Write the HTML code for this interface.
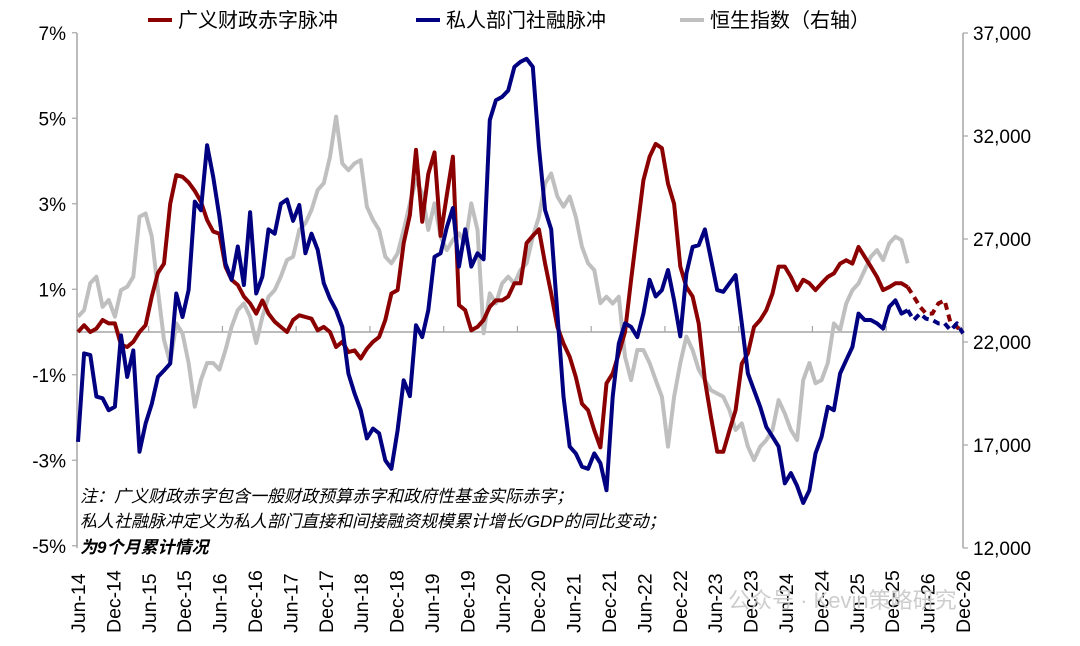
<!DOCTYPE html>
<html><head><meta charset="utf-8">
<style>
html,body{margin:0;padding:0;background:#fff;}
svg text{font-family:"Liberation Sans","Noto Sans CJK SC",sans-serif;}
</style></head>
<body>
<svg id="chart" width="1080" height="641" viewBox="0 0 1080 641" xmlns="http://www.w3.org/2000/svg">
<g id="legend">
 <g><line x1="148" y1="20" x2="172" y2="20" stroke="#8B0000" stroke-width="4"/><text x="178" y="27" font-size="20" fill="#000">广义财政赤字脉冲</text></g>
 <g><line x1="416" y1="20" x2="440" y2="20" stroke="#000080" stroke-width="4"/><text x="446" y="27" font-size="20" fill="#000">私人部门社融脉冲</text></g>
 <g><line x1="680" y1="20" x2="704" y2="20" stroke="#BFBFBF" stroke-width="4"/><text x="710" y="27" font-size="20" fill="#000">恒生指数（右轴）</text></g>
</g>
<g id="axes"></g>
<g id="series"></g>
<g font-style="italic" font-size="17" fill="#000">
 <text x="80" y="502">注：广义财政赤字包含一般财政预算赤字和政府性基金实际赤字；</text>
 <text x="80" y="527">私人社融脉冲定义为私人部门直接和间接融资规模累计增长/GDP的同比变动；</text>
 <text x="80" y="553" font-weight="bold">为9个月累计情况</text>
</g>
<text x="728" y="608" font-size="22" fill="#c8c8c8" opacity="0.9">公众号 · Kevin策略研究</text>
</svg>
<script>
const fiscal=[0,0.16,0,0.08,0.28,0.2,0.2,-0.3,-0.35,-0.23,0,0.16,0.83,1.38,1.6,3.0,3.67,3.63,3.5,3.3,3.05,2.62,2.35,2.3,1.53,1.22,1.1,0.83,0.67,0.43,0.74,0.43,0.24,0.12,0,0.28,0.39,0.35,0.31,0.04,0.12,0,-0.35,-0.23,-0.47,-0.43,-0.62,-0.39,-0.23,-0.12,0.28,0.9,0.98,2.08,2.74,4.26,2.58,3.7,4.2,2.25,3.2,4.1,0.63,0.51,0.04,0.12,0.28,0.59,0.74,0.74,0.83,1.14,1.14,2.08,2.25,2.4,1.6,0.9,0.12,-0.27,-0.58,-1.05,-1.68,-1.83,-2.3,-2.7,-1.2,-0.97,-0.5,0,1.22,2.4,3.55,4.1,4.4,4.3,3.47,3.0,1.53,1.05,0.83,0.2,-1.13,-1.99,-2.8,-2.8,-2.3,-1.83,-0.74,-0.5,0.12,0.28,0.51,0.9,1.53,1.53,1.29,0.98,1.22,1.14,0.98,1.14,1.29,1.37,1.6,1.68,1.6,1.99,1.76,1.53,1.29,0.98,1.05,1.14,1.14,1.05];
const fiscalForecast=[1.05,0.83,0.59,0.43,0.43,0.67,0.74,0.2,0.12,-0.03];
const privatePulse=[-2.57,-0.5,-0.54,-1.51,-1.55,-1.83,-1.75,-0.08,-1.05,-0.43,-2.8,-2.14,-1.68,-1.05,-0.9,-0.74,0.9,0.35,0.98,3.05,2.85,4.37,3.63,2.7,1.6,1.22,2.0,1.1,2.8,0.9,1.3,2.4,2.3,3.0,3.1,2.6,2.97,1.84,2.3,1.92,1.14,0.78,0.51,0.12,-0.97,-1.44,-1.83,-2.49,-2.26,-2.37,-3.0,-3.2,-2.3,-1.13,-1.5,0.16,-0.12,0.51,1.76,1.84,2.45,2.9,1.53,2.4,1.53,1.84,1.7,4.96,5.42,5.5,5.65,6.2,6.32,6.39,6.2,4.33,2.85,2.4,0.43,-1.51,-2.68,-2.84,-3.15,-3.2,-2.84,-3.07,-3.7,-1.51,-0.27,0.2,0.12,-0.12,0.43,1.22,0.83,0.98,1.45,0.74,-0.1,1.37,1.99,2.03,2.4,1.7,0.98,0.94,1.14,1.33,0.2,-0.97,-1.36,-1.75,-2.22,-2.45,-2.68,-3.54,-3.3,-3.6,-4.0,-3.7,-2.84,-2.45,-1.75,-1.83,-0.97,-0.66,-0.35,0.43,0.28,0.28,0.2,0.08,0.59,0.74,0.43,0.51];
const privateForecast=[0.51,0.28,0.43,0.31,0.28,0.2,0.2,0.04,0.2,-0.03];
const hsi=[23230,23550,24860,25170,23710,24040,23230,24520,24680,25170,28080,28240,27110,24520,22100,20980,22900,22420,20980,18860,20150,20980,20980,20660,21610,22740,23550,23870,23230,21950,23230,24200,24520,25170,25980,26140,27440,27760,28410,29380,29710,30990,32940,30670,30340,30670,30830,28570,27920,27440,26140,25820,26300,27440,28730,29870,29220,27440,28730,27110,26460,26950,27270,26790,28730,27440,22420,24360,23870,24840,25170,24840,25490,25820,27110,28080,29700,30180,29060,28570,29060,28080,26620,25820,25490,23890,24200,23870,24200,21290,20150,21610,21610,20980,20150,19340,16920,19340,20980,22260,21610,20660,20150,19660,19500,19340,18690,17730,18050,16920,16270,16920,17240,17730,19180,18530,17730,17240,20150,20980,20000,20150,20980,22900,22580,23870,24520,24840,25490,26140,26460,25980,26790,27110,26950,25820];
const leftTicks=["7%","5%","3%","1%","-1%","-3%","-5%"];
const leftTickValues=[7,5,3,1,-1,-3,-5];
const rightTicks=["37,000","32,000","27,000","22,000","17,000","12,000"];
const rightTickValues=[37000,32000,27000,22000,17000,12000];
const xLabels=["Jun-14","Dec-14","Jun-15","Dec-15","Jun-16","Dec-16","Jun-17","Dec-17","Jun-18","Dec-18","Jun-19","Dec-19","Jun-20","Dec-20","Jun-21","Dec-21","Jun-22","Dec-22","Jun-23","Dec-23","Jun-24","Dec-24","Jun-25","Dec-25","Jun-26","Dec-26"];

const NS="http://www.w3.org/2000/svg";
const X0=78,X1=963,NM=144;
const xm=m=>X0+(X1-X0)*m/NM;
const yl=v=>332-v*42.75;
const yr=v=>548-(v-12000)/25000*515;
function mk(tag,attrs,parent){const e=document.createElementNS(NS,tag);for(const k in attrs)e.setAttribute(k,attrs[k]);parent.appendChild(e);return e;}
const axes=document.getElementById('axes');
const series=document.getElementById('series');

const la=mk('line',{x1:77,y1:33,x2:77,y2:548,stroke:'#a6a6a6','stroke-width':1.5},axes);


const ra=mk('line',{x1:963,y1:33,x2:963,y2:548,stroke:'#a6a6a6','stroke-width':1.5},axes);


const za=mk('line',{x1:77,y1:yl(0),x2:963,y2:yl(0),stroke:'#a6a6a6','stroke-width':1.5},axes);


for(let m=11.5;m<NM;m+=12){
 const t=mk('line',{x1:xm(m),y1:yl(0),x2:xm(m),y2:yl(0)-6,stroke:'#a6a6a6','stroke-width':1.2},axes);
 
 
}
leftTicks.forEach((s,i)=>{
 const y=yl(leftTickValues[i]);
 const tk=mk('line',{x1:72,y1:y,x2:77,y2:y,stroke:'#a6a6a6','stroke-width':1.2},axes);
 
 
 const t=mk('text',{x:66,y:y+7,'font-size':19,'text-anchor':'end',fill:'#000'},axes);
 t.textContent=s;
 
 
});
rightTicks.forEach((s,i)=>{
 const y=yr(rightTickValues[i]);
 const tk=mk('line',{x1:963,y1:y,x2:968,y2:y,stroke:'#a6a6a6','stroke-width':1.2},axes);
 
 
 const t=mk('text',{x:973,y:y+7,'font-size':19,fill:'#000'},axes);
 t.textContent=s;
 
 
});
xLabels.forEach((s,i)=>{
 const x=X0+(X1-X0)*i/(xLabels.length-1);
 const t=mk('text',{x:0,y:0,'font-size':19.5,fill:'#000',transform:`translate(${x+7},633) rotate(-90)`},axes);
 t.textContent=s;
 
 
});

function line(vals,off,fy,color,dash,name){
 const d=vals.map((v,i)=>(i?'L':'M')+xm(i+off).toFixed(1)+','+fy(v).toFixed(1)).join('');
 const p=mk('path',{d:d,fill:'none',stroke:color,'stroke-width':4,'stroke-linejoin':'round','stroke-dasharray':dash||'none'},series);
 
 
}
line(hsi,0,yr,'#BFBFBF',null,'hsi-line');
line(fiscal,0,yl,'#8B0000',null,'fiscal-pulse-line');
line(privatePulse,0,yl,'#000080',null,'private-pulse-line');
line(fiscalForecast,fiscal.length-1,yl,'#8B0000','7,5','fiscal-pulse-forecast');
line(privateForecast,privatePulse.length-1,yl,'#000080','7,5','private-pulse-forecast');
</script>
</body></html>
